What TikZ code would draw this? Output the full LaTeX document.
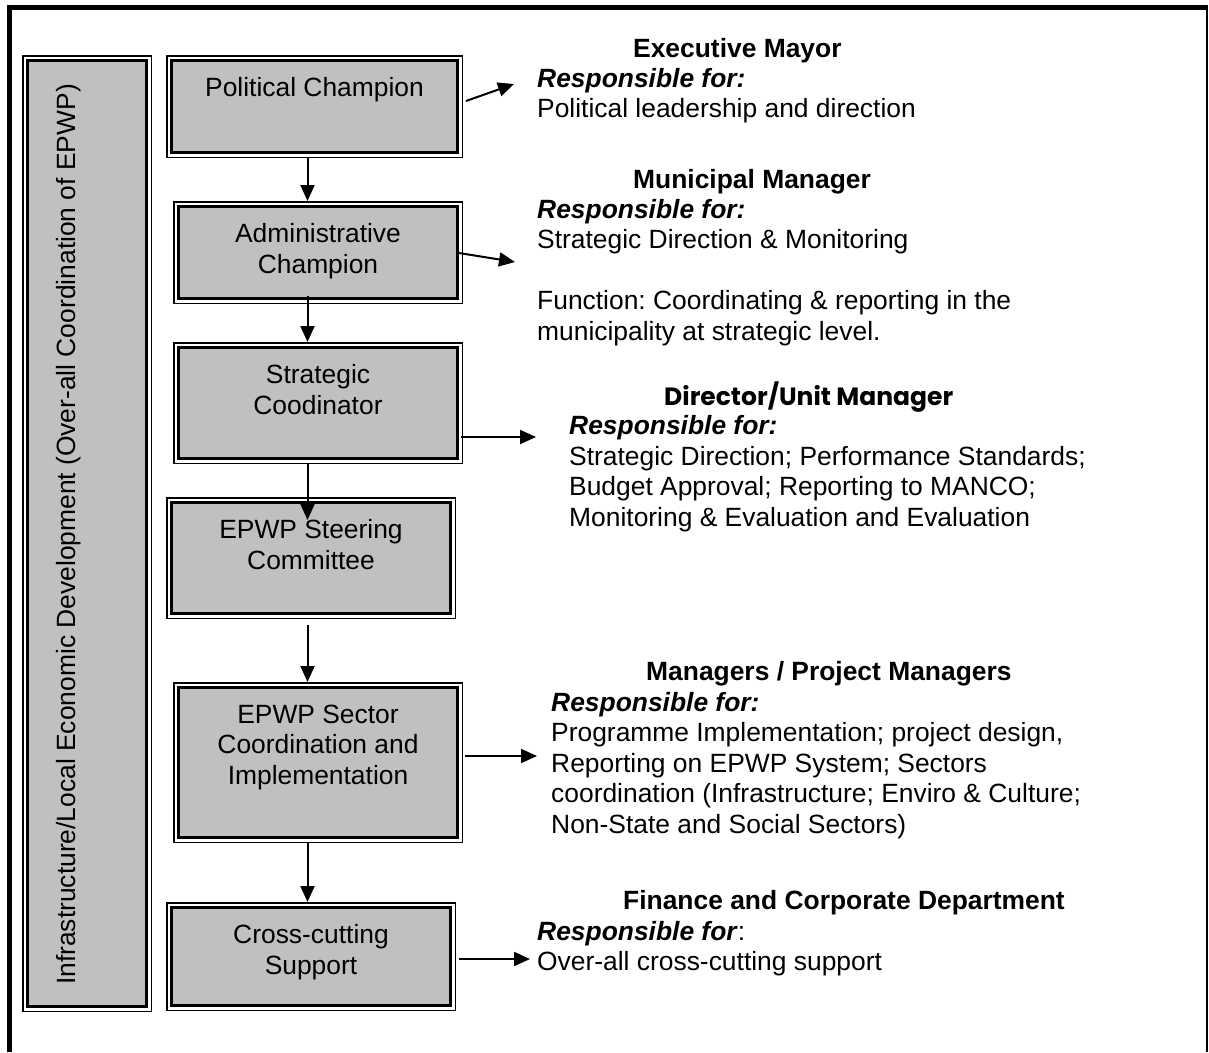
\documentclass[tikz,border=0pt]{standalone}
\usepackage{fontspec}
\setmainfont{Liberation Sans}
\newfontfamily\dirfont{Poppins}
\usetikzlibrary{positioning, arrows.meta}
\definecolor{boxgray}{RGB}{192,192,192}
\frenchspacing
\newcommand{\bodysize}{\fontsize{26.4}{30.5}\selectfont}
\newcommand{\respfor}{\textbf{\textit{Responsible for:}}}
\tikzset{>={Triangle[length=16pt, width=14pt]}}
\tikzset{
  box/.style={draw=black, line width=3.4pt, fill=boxgray, inner sep=0pt, outer sep=5.7pt,
    preaction={draw=black, line width=11.4pt},
    preaction={draw=white, line width=8.4pt}},
  boxtext/.style={font=\bodysize, align=center, inner sep=0pt},
  head/.style={font=\bodysize\bfseries, anchor=base west, inner sep=0pt},
  body/.style={font=\bodysize, align=left, anchor=north west, inner sep=0pt},
  conn/.style={->, line width=2pt}
}

\begin{document}
\begin{tikzpicture}[x=1pt, y=-1pt]
\useasboundingbox (0,0) rectangle (1209,1052);
% frame
\draw[line width=5pt] (9.5,1052) -- (9.5,7.5) -- (1208,7.5);
\draw[line width=2pt] (1206.5,7.5) -- (1206.5,1052);

% left column
\node[box, minimum width=118.6pt, minimum height=945.6pt] (side) at (87,533.5) {};
\node[boxtext, rotate=90, anchor=base] (sidetext) at ([xshift=-12pt,yshift=-1pt]side.center)
  {Infrastructure/Local Economic Development (Over-all Coordination of EPWP)};

% chain of boxes
\node[box, minimum width=285.6pt, minimum height=91.6pt] (pc) at (314.5,106.5) {};
\node[box, minimum width=278.6pt, minimum height=91.6pt] (ac) at (318,252.5) {};
\node[box, minimum width=278.6pt, minimum height=110.6pt] (sc) at (318,403) {};
\node[box, minimum width=278.6pt, minimum height=110.6pt] (st) at (311,558) {};
\node[box, minimum width=278.6pt, minimum height=149.6pt] (se) at (318,762.5) {};
\node[box, minimum width=278.6pt, minimum height=97.6pt] (cc) at (311,956.5) {};

\node[boxtext, below=22.5pt of pc.north] (pct) {Political Champion};
\node[boxtext, below=22.5pt of ac.north] (act) {Administrative\\Champion};
\node[boxtext, below=22.5pt of sc.north] (sct) {Strategic\\Coodinator};
\node[boxtext, below=22.5pt of st.north] (stt) {EPWP Steering\\Committee};
\node[boxtext, below=22.5pt of se.north] (set) {EPWP Sector\\Coordination and\\Implementation};
\node[boxtext, below=22.5pt of cc.north] (cct) {Cross-cutting\\Support};

% responsibilities
\node[head] (exh) at (633,57) {Executive Mayor};
\node[body] (exb) at (537,67.8) {\respfor\\Political leadership and direction};
\node[head] (mmh) at (633,188) {Municipal Manager};
\node[body] (mmb) at (537,198.8) {\respfor\\Strategic Direction \& Monitoring\\[30.5pt]Function: Coordinating \& reporting in the\\municipality at strategic level.};
\node[head, font=\fontsize{25}{30}\selectfont\dirfont\bfseries] (dmh) at (664,405) {Director/Unit Manager};
\node[body] (dmb) at (569,415.3) {\respfor\\Strategic Direction; Performance Standards;\\Budget Approval; Reporting to MANCO;\\Monitoring \& Evaluation and Evaluation};
\node[head] (pmh) at (646,680.5) {Managers / Project Managers};
\node[body] (pmb) at (551,691.8) {\respfor\\Programme Implementation; project design,\\Reporting on EPWP System; Sectors\\coordination (Infrastructure; Enviro \& Culture;\\Non-State and Social Sectors)};
\node[head] (fch) at (623,909) {Finance and Corporate Department};
\node[body] (fcb) at (537,920.8) {\textbf{\textit{Responsible for}}:\\Over-all cross-cutting support};

% arrows
\coordinate (spine) at (307.5,0);
\draw[conn] (pc.south -| spine) -- (ac.north -| spine);
\draw[conn] ([yshift=8pt]ac.south -| spine) -- (sc.north -| spine);
\draw[conn] (sc.south -| spine) -- ([yshift=-23pt]st.north -| spine);
\draw[conn] ([yshift=-6pt]st.south -| spine) -- (se.north -| spine);
\draw[conn] (se.south -| spine) -- (cc.north -| spine);

\coordinate (exin) at (514,84);
\coordinate (mmin) at (515,262);
\coordinate (dmin) at (536,437);
\coordinate (pmin) at (537,756);
\coordinate (fcin) at (530,959);
\draw[conn] ([shift={(3pt,5.5pt)}]pc.east) -- (exin);
\draw[conn] ([shift={(-4pt,-0.5pt)}]ac.east) -- (mmin);
\draw[conn] ([shift={(-2pt,-34pt)}]sc.east) -- (dmin);
\draw[conn] ([shift={(2pt,6.5pt)}]se.east) -- (pmin);
\draw[conn] ([shift={(3pt,-2.5pt)}]cc.east) -- (fcin);
\end{tikzpicture}
\end{document}
